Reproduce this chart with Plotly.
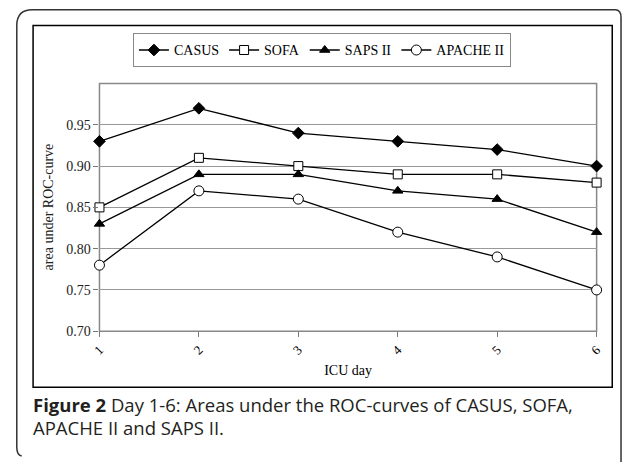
import plotly.graph_objects as go

days = [1, 2, 3, 4, 5, 6]
day_labels = ["1", "2", "3", "4", "5", "6"]
casus = [0.93, 0.97, 0.94, 0.93, 0.92, 0.90]
sofa = [0.85, 0.91, 0.90, 0.89, 0.89, 0.88]
saps = [0.83, 0.89, 0.89, 0.87, 0.86, 0.82]
apache = [0.78, 0.87, 0.86, 0.82, 0.79, 0.75]
y_ticks = [0.70, 0.75, 0.80, 0.85, 0.90, 0.95]
y_labels = ["0.70", "0.75", "0.80", "0.85", "0.90", "0.95"]

W, H = 629, 465


def px(x):
    return x / W


def py(y):
    return 1 - y / H


serif = "Liberation Serif"

fig = go.Figure()
series = [
    ("CASUS", casus, "diamond", "black", 9),
    ("SOFA", sofa, "square", "white", 9),
    ("SAPS II", saps, "triangle-up", "black", 9),
    ("APACHE II", apache, "circle", "white", 10),
]
for name, vals, sym, fill, size in series:
    fig.add_trace(go.Scatter(
        x=days, y=vals, name=name, mode="lines+markers",
        line=dict(color="black", width=1.3),
        marker=dict(symbol=sym, color=fill, size=size,
                    line=dict(color="black", width=1)),
        cliponaxis=False,
    ))

fig.update_layout(
    width=W, height=H,
    margin=dict(l=0, r=0, t=0, b=0),
    paper_bgcolor="white", plot_bgcolor="white",
    showlegend=True,
    legend=dict(
        orientation="h", x=px(128), y=py(34), xanchor="left", yanchor="top",
        bordercolor="#888888", borderwidth=1, bgcolor="white",
        font=dict(family=serif, size=14, color="black"),
        itemwidth=30, tracegroupgap=0,
    ),
    xaxis=dict(
        domain=[px(93.7), px(603)], range=[1, 6],
        tickvals=days, ticktext=day_labels, tickangle=-45,
        showgrid=False, zeroline=False,
        showline=False,
        ticks="outside", ticklen=5, tickcolor="#777777",
        tickfont=dict(family=serif, size=13, color="black"),
        title=dict(text="ICU day", font=dict(family=serif, size=14, color="black"), standoff=8),
    ),
    yaxis=dict(
        domain=[py(337), py(85)], range=[0.70, 1.00],
        tickvals=y_ticks, ticktext=y_labels,
        showgrid=True, gridcolor="#999999", gridwidth=1,
        zeroline=False, showline=False,
        ticks="outside", ticklen=5, tickcolor="#777777",
        tickfont=dict(family=serif, size=14, color="#222222"),
    ),
)

shapes = [
    # outer rounded panel
    dict(type="path", xref="paper", yref="paper",
         path=(f"M {px(9)},{py(26)} Q {px(9)},{py(10)} {px(25)},{py(10)} "
               f"L {px(622)},{py(10)} Q {px(628)},{py(10)} {px(628)},{py(18)} "
               f"L {px(628)},{py(470)} M {px(9)},{py(26)} L {px(9)},{py(455)} "
               f"Q {px(9)},{py(463)} {px(14)},{py(464)}"),
         line=dict(color="#333333", width=1.5)),
    # inner frame
    dict(type="rect", xref="paper", yref="paper",
         x0=px(25.7), x1=px(619), y0=py(394), y1=py(26),
         line=dict(color="black", width=1.5)),
    # plot area border
    dict(type="rect", xref="paper", yref="paper",
         x0=px(93.7), x1=px(603), y0=py(337), y1=py(85),
         line=dict(color="#888888", width=1.5), layer="below"),
]
fig.update_layout(shapes=shapes)

# y-axis title
fig.add_annotation(
    xref="paper", yref="paper", x=px(41), y=py(211), xanchor="center", yanchor="middle",
    showarrow=False, textangle=-90, text="area under ROC-curve",
    font=dict(family=serif, size=14, color="#222222"),
)

cap_font = "Open Sans"
fig.add_annotation(
    xref="paper", yref="paper", x=px(24), y=py(411.5), xanchor="left", yanchor="middle",
    showarrow=False, align="left",
    text="<b>Figure 2</b> Day 1-6: Areas under the ROC-curves of CASUS, SOFA,",
    font=dict(family=cap_font, size=18.5, color="#231f20"),
)
fig.add_annotation(
    xref="paper", yref="paper", x=px(24), y=py(435), xanchor="left", yanchor="middle",
    showarrow=False, align="left",
    text="APACHE II and SAPS II.",
    font=dict(family=cap_font, size=18.5, color="#231f20"),
)

fig.write_html(
    "out.html",
    config={"displayModeBar": False},
    post_script=("document.documentElement.style.margin='0';"
                 "document.body.style.margin='0';"
                 "document.body.style.overflow='hidden';"),
)
